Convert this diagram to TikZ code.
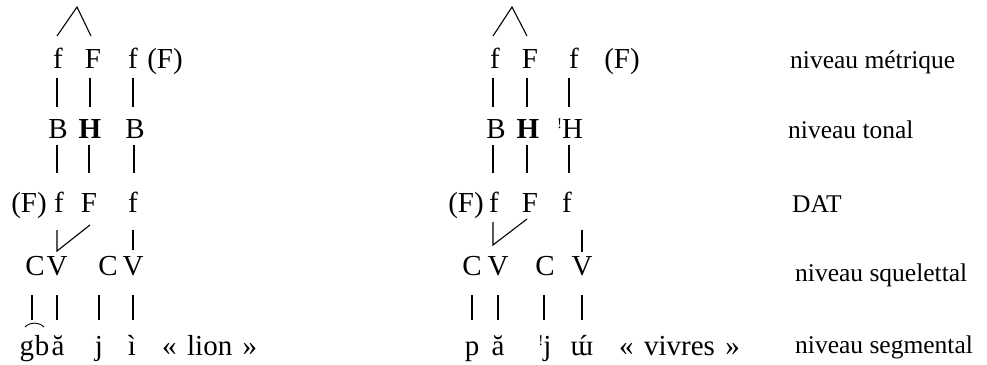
\documentclass[tikz,border=0pt]{standalone}
\usepackage{fontspec}
\setmainfont{Liberation Serif}
\usetikzlibrary{calc}
\tikzset{
  seg/.style   = {anchor=base, inner sep=0pt, font=\fontsize{29}{31}\selectfont},
  gloss/.style = {seg, anchor=base west},
  lvl/.style   = {anchor=base west, inner sep=0pt, font=\fontsize{25.5}{28}\selectfont},
  assoc/.style = {line width=1.1pt},
  tie/.style   = {line width=0.9pt},
}
\newcommand{\dstep}{\raisebox{10pt}{\fontsize{15}{15}\selectfont !}}
\newcommand{\acuteon}[1]{\ooalign{#1\cr\hidewidth\kern3pt ´\hidewidth\cr}}
\newcommand{\gsp}{\hspace{0.36em}}

\begin{document}
\begin{tikzpicture}[x=1pt, y=-1pt]
  \useasboundingbox (0,0) rectangle (987,364);

  % left: gba-ji "lion"
  \node[seg] (fL1)  at (58,68)  {f};
  \node[seg] (FL1)  at (93,68)  {F};
  \node[seg] (fL2)  at (133,68) {f};
  \node[seg] (pFL1) at (165,68) {(F)};

  \node[seg] (BL1) at (58,138)  {B};
  \node[seg] (HL)  at (90,138)  {\textbf{H}};
  \node[seg] (BL2) at (135,138) {B};

  \node[seg] (pFL2) at (29,212)  {(F)};
  \node[seg] (fL3)  at (59,212)  {f};
  \node[seg] (FL3)  at (89,212)  {F};
  \node[seg] (fL4)  at (133,212) {f};

  \node[seg] (CL1) at (35,275)  {C};
  \node[seg] (VL1) at (57,275)  {V};
  \node[seg] (CL2) at (108,275) {C};
  \node[seg] (VL2) at (133,275) {V};

  \node[seg] (gL) at (27,355)  {g};
  \node[seg] (bL) at (42,355)  {b};
  \node[seg] (aL) at (58,355)  {ă};
  \node[seg] (jL) at (99,355)  {j};
  \node[seg] (iL) at (132,355) {ì};
  \node[gloss] (glL) at (162,355) {«\gsp lion\gsp »};

  \coordinate (pkL) at (77,7);
  \draw[assoc] ($(fL1.base)+(-1,-32)$) -- (pkL) -- ($(FL1.base)+(-2,-32)$);
  \foreach \a/\b/\d in {fL1/BL1/-1, FL1/HL/-3, fL2/BL2/0}
    \draw[assoc] ($(\a.base)+(\d,10)$) -- ($(\a.base |- \b.base)+(\d,-31)$);
  \foreach \a/\b in {BL1/fL3, HL/FL3, BL2/fL4}
    \draw[assoc] ($(\a.base)+(-1,7)$) -- ($(\a.base |- \b.base)+(-1,-39)$);
  \draw[assoc] ($(fL3.base)+(-2,18)$) -- ($(VL1.base)+(0,-24)$) -- ($(FL3.base)+(1,13)$);
  \draw[assoc] ($(fL4.base)+(0,18)$) -- ($(VL2.base)+(0,-25)$);
  \draw[assoc] ($(CL1.base)+(-3,20)$) -- ($(CL1.base |- bL.base)+(-3,-35)$);
  \draw[assoc] ($(VL1.base)+(0,20)$) -- ($(VL1.base |- aL.base)+(0,-35)$);
  \draw[assoc] ($(CL2.base -| jL.base)+(0,20)$) -- ($(jL.base)+(0,-35)$);
  \draw[assoc] ($(VL2.base)+(0,20)$) -- ($(VL2.base |- iL.base)+(0,-35)$);
  \draw[tie] ($(gL.base)+(-2,-28)$) to[bend left=45] ($(bL.base)+(2,-28)$);

  % right: pa-ju "vivres"
  \node[seg] (fR1)  at (495,68) {f};
  \node[seg] (FR1)  at (530,68) {F};
  \node[seg] (fR2)  at (574,68) {f};
  \node[seg] (pFR1) at (622,68) {(F)};

  \node[seg] (BR1) at (496,138) {B};
  \node[seg] (HR)  at (528,138) {\textbf{H}};
  \node[seg] (dHR) at (570,138) {\dstep H};

  \node[seg] (pFR2) at (466,212) {(F)};
  \node[seg] (fR3)  at (494,212) {f};
  \node[seg] (FR3)  at (530,212) {F};
  \node[seg] (fR4)  at (567,212) {f};

  \node[seg] (CR1) at (472,275) {C};
  \node[seg] (VR1) at (498,275) {V};
  \node[seg] (CR2) at (545,275) {C};
  \node[seg] (VR2) at (582,275) {V};

  \node[seg] (pR) at (472,355) {p};
  \node[seg] (aR) at (498,355) {ă};
  \node[seg] (jR) at (545,355) {\dstep j};
  \node[seg] (uR) at (582,355) {\acuteon{ɯ}};
  \node[gloss] (glR) at (619,355) {«\gsp vivres\gsp »};

  \coordinate (pkR) at (512,7);
  \draw[assoc] ($(fR1.base)+(-2,-32)$) -- (pkR) -- ($(FR1.base)+(-3,-32)$);
  \foreach \a/\b/\d in {fR1/BR1/-2, FR1/HR/-3, fR2/dHR/-5}
    \draw[assoc] ($(\a.base)+(\d,10)$) -- ($(\a.base |- \b.base)+(\d,-31)$);
  \foreach \a/\b/\d in {BR1/fR3/-3, HR/FR3/-1, dHR/fR4/-1}
    \draw[assoc] ($(\a.base)+(\d,7)$) -- ($(\a.base |- \b.base)+(\d,-39)$);
  \draw[assoc] ($(fR3.base)+(-1,10)$) -- ($(fR3.base |- VR1.base)+(-1,-30)$) -- ($(FR3.base)+(-3,7)$);
  \draw[assoc] ($(fR4.base -| VR2.base)+(0,18)$) -- ($(VR2.base)+(0,-23)$);
  \foreach \a/\b in {CR1/pR, VR1/aR, VR2/uR}
    \draw[assoc] ($(\a.base)+(0,20)$) -- ($(\a.base |- \b.base)+(0,-35)$);
  \draw[assoc] ($(CR2.base)+(-1,20)$) -- ($(CR2.base |- jR.base)+(-1,-35)$);

  % level labels
  \node[lvl] (lvMet) at (790,68)  {niveau métrique};
  \node[lvl] (lvTon) at (788,138) {niveau tonal};
  \node[lvl] (lvDat) at (792,212) {DAT};
  \node[lvl] (lvSqu) at (795,281) {niveau squelettal};
  \node[lvl] (lvSeg) at (795,353) {niveau segmental};
\end{tikzpicture}
\end{document}
